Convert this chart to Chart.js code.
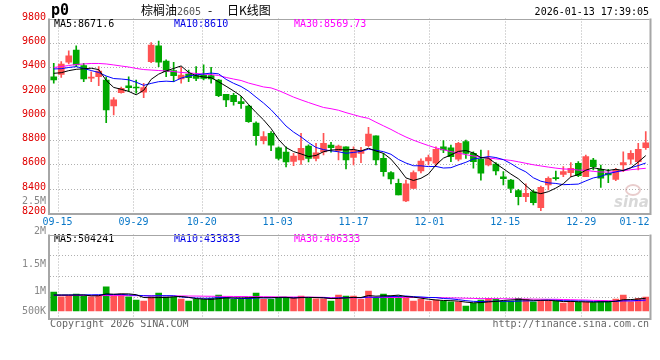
<!DOCTYPE html>
<html>
<head>
<meta charset="utf-8">
<script src="https://cdn.jsdelivr.net/npm/chart.js@4.4.0/dist/chart.umd.min.js"></script>
<style>
html, body { margin: 0; padding: 0; background: #fff; }
#wrap { position: relative; width: 660px; height: 360px; }
#wrap canvas { position: absolute; left: 0; top: 0; }
</style>
</head>
<body>
<div id="wrap">
    <canvas id="kline" width="660" height="360"></canvas>
    <canvas id="vol" width="660" height="360"></canvas>
</div>
<script>
// trading days shown (80 sessions)
const dates = [
    '09-12','09-15','09-16','09-17','09-18','09-19','09-22','09-23','09-24','09-25',
    '09-26','09-29','09-30','10-09','10-10','10-13','10-14','10-15','10-16','10-17',
    '10-20','10-21','10-22','10-23','10-24','10-27','10-28','10-29','10-30','10-31',
    '11-03','11-04','11-05','11-06','11-07','11-10','11-11','11-12','11-13','11-14',
    '11-17','11-18','11-19','11-20','11-21','11-24','11-25','11-26','11-27','11-28',
    '12-01','12-02','12-03','12-04','12-05','12-08','12-09','12-10','12-11','12-12',
    '12-15','12-16','12-17','12-18','12-19','12-22','12-23','12-24','12-25','12-26',
    '12-29','12-30','12-31','01-05','01-06','01-07','01-08','01-09','01-12','01-13'
];

const opens = [
    9321, 9341, 9440, 9541, 9412, 9310, 9321, 9294, 9080, 9190,
    9247, 9232, 9195, 9445, 9576, 9450, 9371, 9302, 9343, 9330,
    9335, 9330, 9294, 9176, 9168, 9116, 9080, 8940, 8795, 8856,
    8737, 8702, 8624, 8636, 8751, 8650, 8702, 8759, 8713, 8745,
    8658, 8691, 8754, 8834, 8650, 8532, 8444, 8299, 8403, 8546,
    8628, 8609, 8745, 8737, 8642, 8787, 8691, 8643, 8595, 8603,
    8498, 8471, 8384, 8334, 8375, 8244, 8430, 8492, 8518, 8532,
    8609, 8499, 8636, 8560, 8527, 8477, 8595, 8642, 8622, 8737
];
const highs = [
    9432, 9445, 9535, 9576, 9432, 9362, 9404, 9321, 9149, 9235,
    9321, 9294, 9267, 9601, 9615, 9460, 9440, 9401, 9376, 9404,
    9418, 9398, 9300, 9176, 9185, 9157, 9088, 8951, 8869, 8869,
    8745, 8745, 8690, 8856, 8760, 8773, 8856, 8782, 8759, 8745,
    8745, 8740, 8905, 8834, 8691, 8540, 8480, 8471, 8547, 8645,
    8677, 8745, 8795, 8759, 8782, 8800, 8704, 8718, 8713, 8614,
    8540, 8477, 8395, 8439, 8389, 8422, 8498, 8545, 8581, 8614,
    8622, 8677, 8650, 8595, 8560, 8568, 8704, 8713, 8773, 8869
];
const lows = [
    9267, 9316, 9426, 9404, 9280, 9280, 9247, 8943, 9006, 9186,
    9198, 9185, 9149, 9436, 9404, 9321, 9280, 9269, 9280, 9288,
    9294, 9267, 9157, 9074, 9088, 9061, 8946, 8759, 8768, 8713,
    8636, 8580, 8590, 8600, 8620, 8628, 8677, 8700, 8636, 8562,
    8595, 8614, 8745, 8595, 8504, 8439, 8348, 8293, 8403, 8530,
    8595, 8581, 8696, 8622, 8628, 8650, 8568, 8471, 8587, 8513,
    8430, 8367, 8266, 8293, 8266, 8219, 8389, 8471, 8499, 8499,
    8499, 8499, 8554, 8411, 8449, 8466, 8540, 8601, 8554, 8724
];
const closes = [
    9294, 9426, 9492, 9418, 9302, 9318, 9368, 9047, 9130, 9226,
    9231, 9228, 9231, 9582, 9440, 9362, 9330, 9335, 9313, 9308,
    9308, 9302, 9165, 9130, 9116, 9099, 8951, 8836, 8828, 8759,
    8650, 8620, 8669, 8732, 8650, 8696, 8773, 8737, 8751, 8636,
    8718, 8710, 8850, 8636, 8540, 8480, 8348, 8439, 8532, 8628,
    8655, 8724, 8718, 8663, 8773, 8691, 8622, 8528, 8643, 8546,
    8482, 8403, 8334, 8362, 8285, 8411, 8485, 8482, 8540, 8568,
    8507, 8664, 8581, 8486, 8513, 8554, 8614, 8691, 8724, 8778
];
const volumes = [
    749000, 563000, 591000, 670000, 603000, 563000, 591000, 957000, 603000, 670000,
    563000, 433000, 394000, 563000, 709000, 563000, 563000, 473000, 394000, 461000,
    461000, 500000, 630000, 540000, 461000, 461000, 524000, 709000, 461000, 461000,
    540000, 540000, 540000, 591000, 500000, 485000, 485000, 394000, 630000, 591000,
    591000, 461000, 788000, 500000, 670000, 591000, 591000, 500000, 394000, 461000,
    394000, 433000, 394000, 366000, 366000, 197000, 303000, 433000, 500000, 461000,
    394000, 394000, 500000, 461000, 366000, 394000, 394000, 394000, 315000, 394000,
    345000, 350000, 330000, 400000, 392000, 473000, 630000, 366000, 500000, 552000
];

// moving-average values before enough sessions are on screen
const ma5Head = [9349, 9354, 9371, 9382];
const ma10Head = [9385, 9387, 9397, 9404, 9389, 9372, 9356, 9327, 9306];
const ma30Head = [
    9397, 9405, 9413, 9422, 9426, 9430, 9430, 9426, 9418, 9409,
    9401, 9389, 9380, 9376, 9372, 9368, 9364, 9356, 9352, 9348,
    9343, 9339, 9331, 9315, 9302, 9290, 9269, 9253, 9237
];
const volMa5Head = [630000, 630000, 630000, 630000];
const volMa10Head = [630000, 632000, 634000, 636000, 638000, 640000, 645000, 650000, 652000];
const volMa30Head = [
    615000, 615000, 615000, 615000, 612000, 612000, 610000, 610000, 610000, 608000,
    608000, 605000, 605000, 603000, 600000, 600000, 598000, 595000, 592000, 590000,
    585000, 582000, 580000, 578000, 575000, 572000, 570000, 568000, 565000
];

const priceTicks = [9800, 9600, 9400, 9200, 9000, 8800, 8600, 8400, 8200];
const dateTicks = ['09-15', '09-29', '10-20', '11-03', '11-17', '12-01', '12-15', '12-29', '01-12'];
const volTickLabels = ['2.5M', '2M', '1.5M', '1M', '500K'];
const volTickY = [201, 231, 264, 291, 311];
const priceLegend = ['MA5:8671.6', 'MA10:8610', 'MA30:8569.73'];
const volLegend = ['MA5:504241', 'MA10:433833', 'MA30:406333'];

const RED = '#ff5353';
const GREEN = '#00a800';
const GRID = '#b0b0b0';
const FRAME = '#a6a6a6';
const MONO = '10px "DejaVu Sans Mono"';

function movingAvg(src, n, head) {
    return src.map((v, i) => {
        if (i < n - 1) return head[i];
        let s = 0;
        for (let k = i - n + 1; k <= i; k++) s += src[k];
        return s / n;
    });
}

const upDown = closes.map((c, i) => c >= opens[i] ? RED : GREEN);

function dotted(ctx, x1, y1, x2, y2) {
    ctx.save();
    ctx.strokeStyle = GRID;
    ctx.lineWidth = 1;
    ctx.setLineDash([1, 2]);
    ctx.beginPath();
    ctx.moveTo(x1, y1);
    ctx.lineTo(x2, y2);
    ctx.stroke();
    ctx.restore();
}

// date gridlines are spread over the full width, one step per session
function gridX(area, idx) {
    return area.left + idx * (area.right - area.left) / (dates.length - 1);
}

function drawFrame(ctx, a) {
    ctx.save();
    ctx.strokeStyle = FRAME;
    ctx.lineWidth = 1;
    ctx.beginPath();
    ctx.moveTo(a.left, Math.round(a.top) + 0.5);
    ctx.lineTo(a.right, Math.round(a.top) + 0.5);
    ctx.stroke();
    ctx.lineWidth = 2;
    ctx.beginPath();
    ctx.moveTo(a.left - 1, a.top);
    ctx.lineTo(a.left - 1, a.bottom + 1);
    ctx.lineTo(a.right + 1, a.bottom + 1);
    ctx.lineTo(a.right + 1, a.top);
    ctx.stroke();
    ctx.restore();
}

const klineDecor = {
    id: 'klineDecor',
    beforeDatasetsDraw(chart) {
        const ctx = chart.ctx, a = chart.chartArea, y = chart.scales.y;
        priceTicks.forEach(v => {
            const py = Math.round(y.getPixelForValue(v)) + 0.5;
            if (py > a.top + 2 && py < a.bottom - 2) dotted(ctx, a.left, py, a.right, py);
        });
        dateTicks.slice(0, -1).forEach(d => {
            const px = Math.round(gridX(a, dates.indexOf(d))) + 0.5;
            dotted(ctx, px, a.top, px, a.bottom);
        });
    },
    afterDraw(chart) {
        const ctx = chart.ctx, a = chart.chartArea, y = chart.scales.y;
        ctx.save();
        drawFrame(ctx, a);

        // title row
        ctx.textBaseline = 'alphabetic';
        ctx.fillStyle = '#000';
        ctx.font = 'bold 15px "DejaVu Sans Mono"';
        ctx.fillText('p0', 51, 15);
        ctx.font = '12px "Noto Sans CJK SC"';
        ctx.fillText('棕榈油', 141, 15);
        ctx.fillStyle = '#555';
        ctx.font = MONO;
        ctx.fillText('2605', 177, 15);
        ctx.fillStyle = '#000';
        ctx.font = '12px "Noto Sans CJK SC"';
        ctx.fillText('-', 208, 15);
        ctx.fillText('日K线图', 227, 15);
        ctx.font = MONO;
        ctx.textAlign = 'right';
        ctx.fillText('2026-01-13 17:39:05', 649, 15);

        // MA legends
        ctx.textAlign = 'left';
        const legendColors = ['#000', '#0000e6', '#ff00ff'];
        const legendX = [54, 174, 294];
        priceLegend.forEach((t, i) => {
            ctx.fillStyle = legendColors[i];
            ctx.fillText(t, legendX[i], 27);
        });
        volLegend.forEach((t, i) => {
            ctx.fillStyle = legendColors[i];
            ctx.fillText(t, legendX[i], 242);
        });

        // price axis labels
        ctx.textAlign = 'right';
        ctx.textBaseline = 'middle';
        ctx.fillStyle = '#e00000';
        priceTicks.forEach(v => {
            ctx.fillText(String(v), 46, y.getPixelForValue(v) - 1.5);
        });
        ctx.fillStyle = '#888';
        volTickLabels.forEach((t, i) => ctx.fillText(t, 46, volTickY[i]));

        // date labels
        ctx.textBaseline = 'alphabetic';
        ctx.textAlign = 'center';
        ctx.fillStyle = '#0a78c8';
        dateTicks.forEach(d => {
            let px = gridX(a, dates.indexOf(d));
            const w = ctx.measureText(d).width;
            if (px + w / 2 > a.right) px = a.right - w / 2;
            ctx.fillText(d, px, 225);
        });

        // footer
        ctx.fillStyle = '#666';
        ctx.textAlign = 'left';
        ctx.fillText('Copyright 2026 SINA.COM', 50, 327);
        ctx.textAlign = 'right';
        ctx.fillText('http://finance.sina.com.cn', 649, 327);

        // sina watermark
        ctx.globalAlpha = 0.35;
        ctx.strokeStyle = '#c07070';
        ctx.lineWidth = 2;
        ctx.beginPath();
        ctx.ellipse(633, 190, 7, 5, 0, 0, Math.PI * 2);
        ctx.stroke();
        ctx.fillStyle = '#909090';
        ctx.font = 'italic bold 15px "DejaVu Sans"';
        ctx.textAlign = 'left';
        ctx.fillText('sina', 614, 207);
        ctx.restore();
    }
};

const volDecor = {
    id: 'volDecor',
    beforeDatasetsDraw(chart) {
        const ctx = chart.ctx, a = chart.chartArea;
        const h = a.bottom - a.top;
        [0.25, 0.5, 0.75].forEach(f => {
            const py = Math.round(a.top + h * f) + 0.5;
            dotted(ctx, a.left, py, a.right, py);
        });
        dateTicks.slice(0, -1).forEach(d => {
            const px = Math.round(gridX(a, dates.indexOf(d))) + 0.5;
            dotted(ctx, px, a.top, px, a.bottom);
        });
    },
    afterDraw(chart) {
        drawFrame(chart.ctx, chart.chartArea);
    }
};

const lineStyle = { type: 'line', pointRadius: 0, borderWidth: 1, tension: 0, order: 0 };

new Chart(document.getElementById('kline'), {
    type: 'bar',
    data: {
        labels: dates,
        datasets: [
            { ...lineStyle, data: movingAvg(closes, 5, ma5Head), borderColor: '#000' },
            { ...lineStyle, data: movingAvg(closes, 10, ma10Head), borderColor: '#0000ff' },
            { ...lineStyle, data: movingAvg(closes, 30, ma30Head), borderColor: '#ff00ff' },
            {
                data: lows.map((l, i) => [l, highs[i]]),
                backgroundColor: upDown,
                barThickness: 1,
                grouped: false,
                order: 2
            },
            {
                data: opens.map((o, i) => [o, closes[i]]),
                backgroundColor: upDown,
                barThickness: 6,
                minBarLength: 1,
                grouped: false,
                order: 1
            }
        ]
    },
    options: {
        responsive: false,
        animation: false,
        events: [],
        layout: { padding: { left: 50, top: 18.5, right: 10.5, bottom: 147 } },
        scales: {
            x: { type: 'category', offset: true, display: false },
            y: { min: 8200, max: 9800, display: false }
        },
        plugins: { legend: { display: false }, tooltip: { enabled: false } }
    },
    plugins: [klineDecor]
});

new Chart(document.getElementById('vol'), {
    type: 'bar',
    data: {
        labels: dates,
        datasets: [
            { ...lineStyle, data: movingAvg(volumes, 5, volMa5Head), borderColor: '#000' },
            { ...lineStyle, data: movingAvg(volumes, 10, volMa10Head), borderColor: '#0000ff' },
            { ...lineStyle, data: movingAvg(volumes, 30, volMa30Head), borderColor: '#ff00ff' },
            {
                data: volumes,
                backgroundColor: upDown,
                barThickness: 6,
                grouped: false,
                order: 1
            }
        ]
    },
    options: {
        responsive: false,
        animation: false,
        events: [],
        layout: { padding: { left: 50, top: 234.5, right: 10.5, bottom: 42 } },
        scales: {
            x: { type: 'category', offset: true, display: false },
            y: { min: -276000, max: 3022000, display: false }
        },
        plugins: { legend: { display: false }, tooltip: { enabled: false } }
    },
    plugins: [volDecor]
});
</script>
</body>
</html>
